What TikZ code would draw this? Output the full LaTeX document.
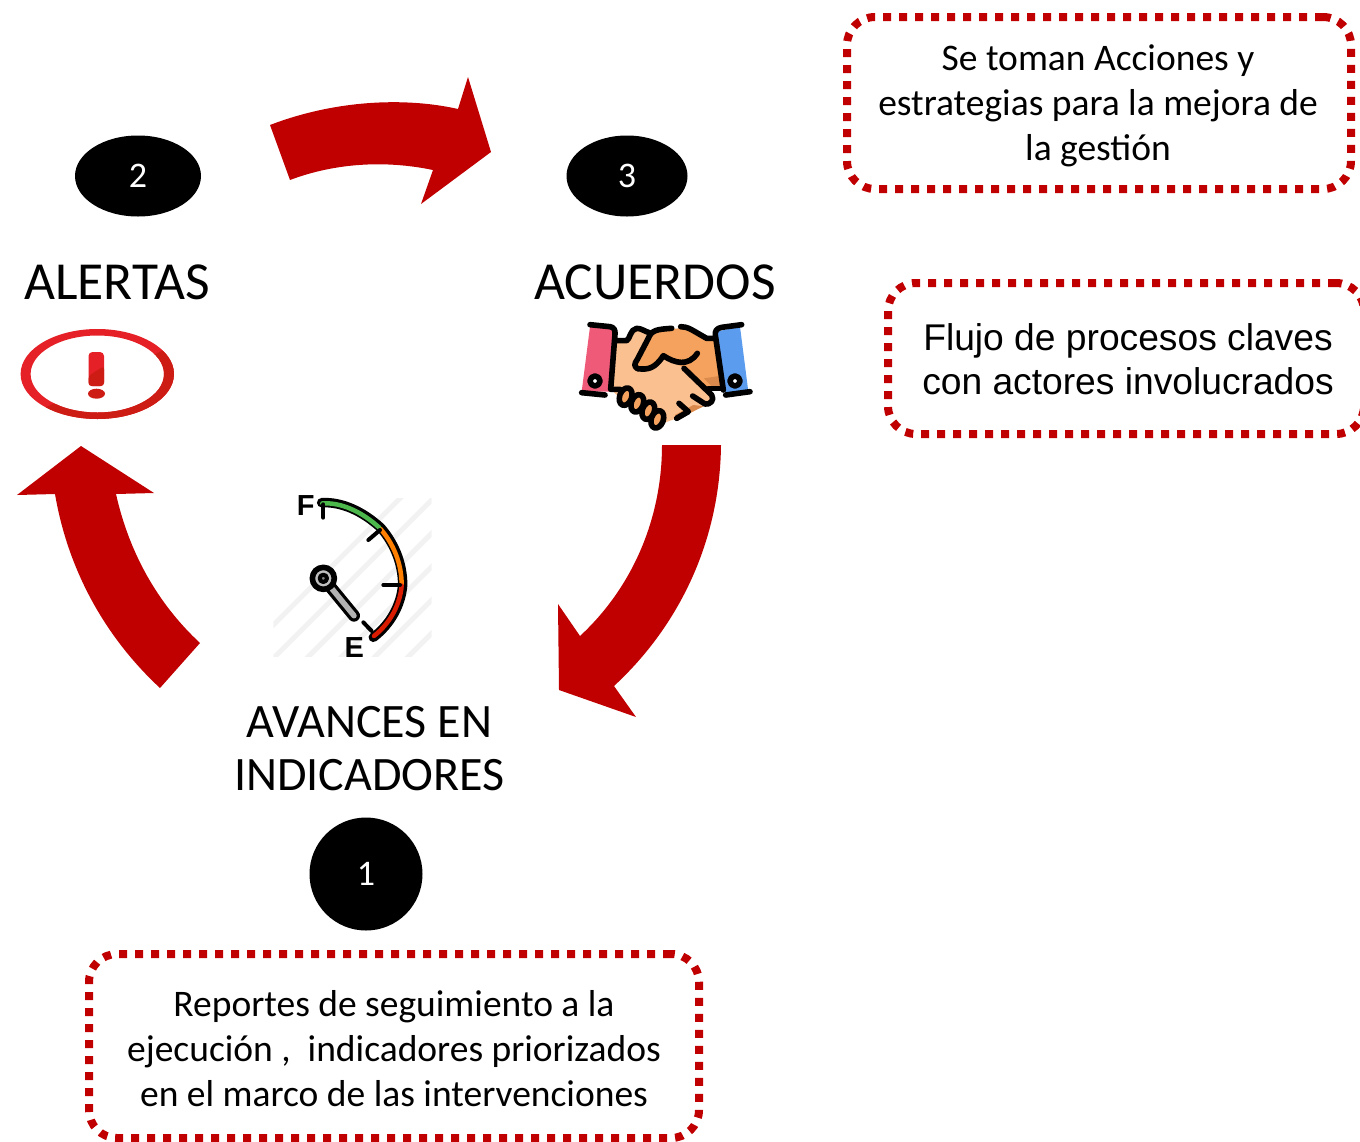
\documentclass[tikz,border=0pt]{standalone}
\usepackage{fontspec}
\setmainfont{Carlito}
\newfontfamily\arialf{Liberation Sans}
\definecolor{arrowred}{HTML}{C00000}
\definecolor{alertred}{HTML}{E52027}
\definecolor{alertdark}{HTML}{CC1C14}
\definecolor{pinkcuff}{HTML}{EE5A78}
\definecolor{bluecuff}{HTML}{5B9CEE}
\definecolor{lighthand}{HTML}{FBC090}
\definecolor{darkhand}{HTML}{F4A25E}
\definecolor{shadehand}{HTML}{D98A4C}
\tikzset{
  dotbox/.style={draw=arrowred,line width=8pt,dash pattern=on 8pt off 8pt,rounded corners=28pt,inner sep=0pt},
  blacknum/.style={fill=black,text=white,ellipse,inner sep=0pt,font=\fontsize{36}{36}\selectfont},
  bodytext/.style={align=center,text=black,font=\fontsize{37.5}{44.7}\selectfont,inner sep=0pt},
  headtext/.style={align=center,text=black,font=\fontsize{53.5}{53}\selectfont,inner sep=0pt},
  blockarrow/.style={fill=arrowred,draw=none},
  ink/.style={draw=black,line width=5.6pt,line cap=round,line join=round},
}
\usetikzlibrary{shapes.geometric}
\begin{document}
\begin{tikzpicture}[x=1pt,y=-1pt]
\useasboundingbox (0,0) rectangle (1360,1141);
\clip (0,0) rectangle (1360,1141);
% block arrows
\fill[blockarrow] (270,125) .. controls (335,100) and (405,97) .. (458,109) -- (468,77) -- (491,152) -- (421,204) -- (433,170) .. controls (385,160) and (335,163) .. (290,180) -- cycle;
\fill[blockarrow] (662,445) -- (721,445) .. controls (720,540) and (680,625) .. (614,686) -- (636,717) -- (559,690) -- (558,604) -- (580,636) .. controls (635,585) and (662,515) .. (662,445) -- cycle;
\fill[blockarrow] (200,643) .. controls (157,603) and (129,552) .. (116,494) -- (154,493) -- (81,446) -- (17,495) -- (55,494) .. controls (68,570) and (105,637) .. (160,688) -- cycle;
% numbered discs
\node[blacknum,minimum width=126pt,minimum height=81pt] (n2) at (138,176) {2};
\node[blacknum,minimum width=121pt,minimum height=81pt] (n3) at (627,176) {3};
\node[blacknum,minimum width=113pt,minimum height=113pt] (n1) at (366,874) {1};
% headings
\node[headtext] (alertas) at (117,282) {ALERTAS};
\node[headtext] (acuerdos) at (655,282) {ACUERDOS};
\node[headtext,font=\fontsize{48}{53}\selectfont] (avances) at (369.5,749) {AVANCES EN\\INDICADORES};
% dotted boxes
\node[dotbox,minimum width=504pt,minimum height=172pt] (box1) at (1099,103) {};
\node[dotbox,minimum width=476pt,minimum height=151pt] (box2) at (1126,358.5) {};
\node[dotbox,minimum width=610pt,minimum height=184pt] (box3) at (394,1046) {};
\node[bodytext] (t1) at (1098,106) {Se toman Acciones y\\estrategias para la mejora de\\la gestión};
\node[bodytext,font=\arialf\fontsize{37.2}{44}\selectfont] (t2) at (1128,359) {Flujo de procesos claves\\con actores involucrados};
\node[bodytext] (t3) at (394,1048.5) {Reportes de seguimiento a la\\ejecución ,\ \ indicadores priorizados\\en el marco de las intervenciones};
% alert icon
\fill[alertred,even odd rule] (97.3,374) ellipse [x radius=76.7,y radius=45] (97.3,374) ellipse [x radius=66.7,y radius=38.5];
\begin{scope}
\clip (174,345) -- (174,420) -- (20,420) -- cycle;
\fill[alertdark,even odd rule] (97.3,374) ellipse [x radius=76.7,y radius=45] (97.3,374) ellipse [x radius=66.7,y radius=38.5];
\end{scope}
\fill[alertred,rounded corners=4pt] (88.5,352) rectangle (104,386);
\fill[alertdark,rounded corners=3pt] (88.5,386) -- (88.5,376) -- (104,366) -- (104,386) -- cycle;
\fill[alertdark] (96.5,393.7) ellipse [x radius=8.5,y radius=5];
% handshake icon
\begin{scope}[shift={(560,310)},scale=1/3]
\fill[pinkcuff] (90,50) -- (165,58) -- (150,245) -- (65,245) -- cycle;
\fill[bluecuff] (468,65) -- (540,50) -- (565,245) -- (495,250) -- cycle;
\fill[lighthand] (170,95) -- (205,90) -- (215,60) -- (250,60) -- (275,72) -- (360,170) -- (462,262) -- (400,305) -- (350,325) -- (280,350) -- (175,260) -- (150,235) -- cycle;
\fill[shadehand] (460,265) -- (440,285) -- (355,325) -- (345,315) -- (400,285) -- (440,290) -- cycle;
\fill[darkhand] (255,120) -- (285,60) -- (360,55) -- (380,50) -- (440,85) -- (465,85) -- (485,235) -- (445,235) -- (370,175) -- (315,140) -- (290,170) -- (235,180) -- (225,165) -- cycle;
\fill[shadehand] (432,205) -- (478,198) -- (484,235) -- (462,235) -- cycle;
\draw[ink] (90,44) -- (150,50) .. controls (162,52) and (166,60) .. (165,72) -- (152,238) -- (180,238);
\draw[ink] (65,248) -- (135,255);
\draw[ink] (545,44) -- (485,52) .. controls (470,55) and (465,62) .. (466,75) -- (490,240);
\draw[ink] (497,255) -- (570,245);
\draw[ink,fill=white] (105,213) circle (15);
\draw[ink,fill=white] (525,213) circle (15);
\draw[ink] (168,92) -- (200,92) .. controls (210,88) and (210,58) .. (230,55) .. controls (245,55) and (255,65) .. (268,68);
\draw[ink] (233,176) .. controls (222,170) and (222,162) .. (232,148) -- (265,85) .. controls (275,60) and (290,58) .. (335,55);
\draw[ink] (362,50) .. controls (385,50) and (395,60) .. (440,85) -- (464,85);
\draw[ink] (233,176) .. controls (265,180) and (285,175) .. (310,137) .. controls (345,160) and (385,170) .. (412,130);
\draw[ink] (372,175) -- (455,255) .. controls (465,270) and (450,285) .. (435,282) -- (398,258);
\draw[ink] (445,236) -- (484,236);
\draw[ink] (357,280) -- (385,305) -- (350,325);
\foreach \fx/\fy in {197/260,232/280,265/302,292/328}
  \draw[ink,fill=darkhand,rotate around={70:(\fx,\fy)}] (\fx,\fy) ellipse [x radius=27,y radius=18];
\end{scope}
% gauge icon
\begin{scope}[shift={(260,485)},scale=1/3]
\begin{scope}
\clip (40,40) rectangle (515,515);
\foreach \d in {-60,40,...,740}
  \draw[black!5,line width=5pt] (\d,520) -- (\d+520,0);
\end{scope}
\draw[draw=black,line width=9.5pt,line cap=round] (185,53) .. controls (245,50) and (307,78) .. (362,128) .. controls (403,175) and (428,235) .. (428,300) .. controls (423,360) and (392,417) .. (340,457);
\draw[draw=green!60!black!70!white,line width=4.5pt,line cap=round] (187,55) .. controls (245,52) and (305,80) .. (358,128);
\draw[draw=orange,line width=4.5pt] (360,130) .. controls (400,175) and (425,235) .. (425,300);
\draw[draw=red!75!orange!85!black,line width=4.5pt,line cap=round] (425,302) .. controls (420,360) and (390,415) .. (342,453);
\draw[ink,line width=4pt] (190,58) -- (190,98);
\draw[ink,line width=4pt] (360,135) -- (325,165);
\draw[ink,line width=4pt] (420,300) -- (370,300);
\draw[ink,line width=4pt] (335,438) -- (310,412);
\draw[line width=12pt,line cap=round,draw=black] (190,280) -- (282,392);
\draw[line width=5.5pt,line cap=round,draw=black!30] (205,298) -- (282,392);
\draw[ink,fill=black!25] (190,280) circle (33);
\draw[ink,line width=4pt,fill=black!50] (190,280) circle (11);
\node[font=\arialf\bfseries\fontsize{29}{29}\selectfont,inner sep=0pt] (gf) at (137,62) {F};
\node[font=\arialf\bfseries\fontsize{29}{29}\selectfont,inner sep=0pt] (ge) at (283,487) {E};
\end{scope}
\end{tikzpicture}
\end{document}
